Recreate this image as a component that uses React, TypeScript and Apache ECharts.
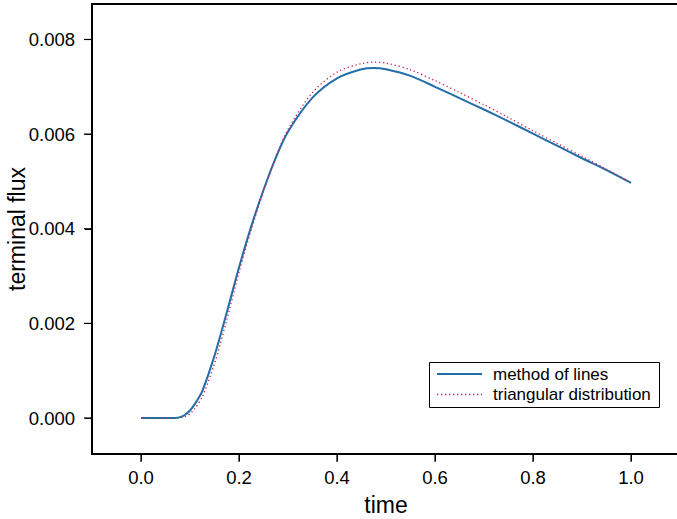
import React, { useEffect, useRef } from "react";
import * as echarts from "echarts";

const times = [0, 0.05, 0.06, 0.07, 0.08, 0.09, 0.1, 0.11, 0.125, 0.15, 0.175, 0.2, 0.225, 0.25, 0.275, 0.3, 0.35, 0.4, 0.45, 0.475, 0.5, 0.55, 0.6, 0.65, 0.7, 0.75, 0.8, 0.85, 0.9, 0.95, 1.0];
const methodOfLines = [0, 0, 0, 0.000003, 0.00002, 0.00007, 0.00016, 0.0003, 0.00057, 0.00132, 0.00223, 0.00318, 0.00405, 0.00482, 0.0055, 0.00605, 0.00677, 0.00718, 0.00737, 0.0074, 0.00737, 0.00723, 0.007, 0.00676, 0.00652, 0.00627, 0.00601, 0.00575, 0.00549, 0.00524, 0.00497];
const triangular = [0, 0, 0, 0, 0.00001, 0.00003, 0.00009, 0.0002, 0.00045, 0.00115, 0.00207, 0.00308, 0.00398, 0.00479, 0.00551, 0.0061, 0.00688, 0.00731, 0.00749, 0.00752, 0.0075, 0.00736, 0.00713, 0.00688, 0.00662, 0.00635, 0.00607, 0.0058, 0.00553, 0.00526, 0.00497];
const xTicks = [0, 0.2, 0.4, 0.6, 0.8, 1.0];
const yTicks = [0, 0.002, 0.004, 0.006, 0.008];
const seriesNames = ["method of lines", "triangular distribution"];

const X_MIN = -0.1;
const X_MAX = 1.1;
const Y_MIN = -0.00076;
const Y_MAX = 0.00875;

const FONT = "'Liberation Sans', Arial, Helvetica, sans-serif";
const BLUE = "#236ea8";
const RED = "#cc2255";

export default function App() {
  const ref = useRef<HTMLDivElement>(null);
  useEffect(() => {
    if (!ref.current) return;
    const chart = echarts.init(ref.current, null, { renderer: "svg" });
    chart.setOption({
      animation: false,
      textStyle: { fontFamily: FONT },
      grid: {
        left: 92,
        top: 4,
        right: 0,
        bottom: 65,
        containLabel: false,
        outerBoundsMode: "none",
        show: true,
        borderColor: "#000",
        borderWidth: 2,
      },
      graphic: [
        {
          type: "rect",
          shape: { x: 429.5, y: 362.5, width: 230, height: 45 },
          style: { fill: "#fff", stroke: "#000", lineWidth: 1 },
          z: 10,
        },
        {
          type: "line",
          shape: { x1: 437, y1: 374, x2: 482, y2: 374 },
          style: { stroke: BLUE, lineWidth: 2 },
          z: 11,
        },
        {
          type: "line",
          shape: { x1: 437, y1: 394.5, x2: 482, y2: 394.5 },
          style: { stroke: RED, lineWidth: 1.3, lineDash: [1.3, 2.7] },
          z: 11,
        },
        {
          type: "text",
          x: 493,
          y: 374,
          style: { text: seriesNames[0], fontSize: 17, fontFamily: FONT, fill: "#000", verticalAlign: "middle", align: "left" },
          z: 11,
        },
        {
          type: "text",
          x: 493,
          y: 394,
          style: { text: seriesNames[1], fontSize: 17, fontFamily: FONT, fill: "#000", verticalAlign: "middle", align: "left" },
          z: 11,
        },
      ],
      xAxis: {
        type: "value",
        min: X_MIN,
        max: X_MAX,
        name: "time",
        nameLocation: "middle",
        nameGap: 39,
        nameMoveOverlap: false,
        nameTextStyle: { fontSize: 23, color: "#000", fontFamily: FONT },
        axisLine: { show: true, onZero: false, lineStyle: { color: "#000", width: 2 } },
        splitLine: { show: false },
        axisTick: { show: true, inside: false, length: 7, lineStyle: { color: "#000", width: 1 }, customValues: xTicks },
        axisLabel: {
          fontSize: 18.5,
          color: "#000",
          margin: 14,
          customValues: xTicks,
          formatter: (v: number) => v.toFixed(1),
        },
      },
      yAxis: {
        type: "value",
        min: Y_MIN,
        max: Y_MAX,
        name: "terminal flux",
        nameLocation: "middle",
        nameGap: 64,
        nameMoveOverlap: false,
        nameTextStyle: { fontSize: 23, color: "#000", fontFamily: FONT },
        axisLine: { show: true, onZero: false, lineStyle: { color: "#000", width: 2 } },
        splitLine: { show: false },
        axisTick: { show: true, inside: false, length: 7, lineStyle: { color: "#000", width: 1 }, customValues: yTicks },
        axisLabel: {
          fontSize: 18.5,
          color: "#000",
          margin: 17,
          customValues: yTicks,
          formatter: (v: number) => v.toFixed(3),
        },
      },
      series: [
        {
          name: "x ticks",
          type: "scatter",
          data: xTicks.map((t) => [t, Y_MIN]),
          symbol: "rect",
          symbolSize: [1.2, 8],
          symbolOffset: [0, 4],
          clip: false,
          silent: true,
          itemStyle: { color: "#000", opacity: 1 },
          z: 5,
        },
        {
          name: "y ticks",
          type: "scatter",
          data: yTicks.map((v) => [X_MIN, v]),
          symbol: "rect",
          symbolSize: [8, 1.2],
          symbolOffset: [-4, 0],
          clip: false,
          silent: true,
          itemStyle: { color: "#000", opacity: 1 },
          z: 5,
        },
        {
          name: seriesNames[0],
          type: "line",
          data: times.map((t, i) => [t, methodOfLines[i]]),
          showSymbol: false,
          symbol: "none",
          smooth: 0.3,
          lineStyle: { color: BLUE, width: 2 },
          itemStyle: { color: BLUE },
          z: 2,
        },
        {
          name: seriesNames[1],
          type: "line",
          data: times.map((t, i) => [t, triangular[i]]),
          showSymbol: false,
          symbol: "none",
          smooth: 0.3,
          lineStyle: { color: RED, width: 1.3, type: [1.3, 2.7] },
          itemStyle: { color: RED },
          z: 3,
        },
      ],
    });
    return () => chart.dispose();
  }, []);
  return (
    <div style={{ position: "absolute", left: 0, top: 0, width: 677, height: 519, overflow: "hidden", background: "#fff" }}>
      <div ref={ref} style={{ width: 680, height: 519 }} />
    </div>
  );
}
